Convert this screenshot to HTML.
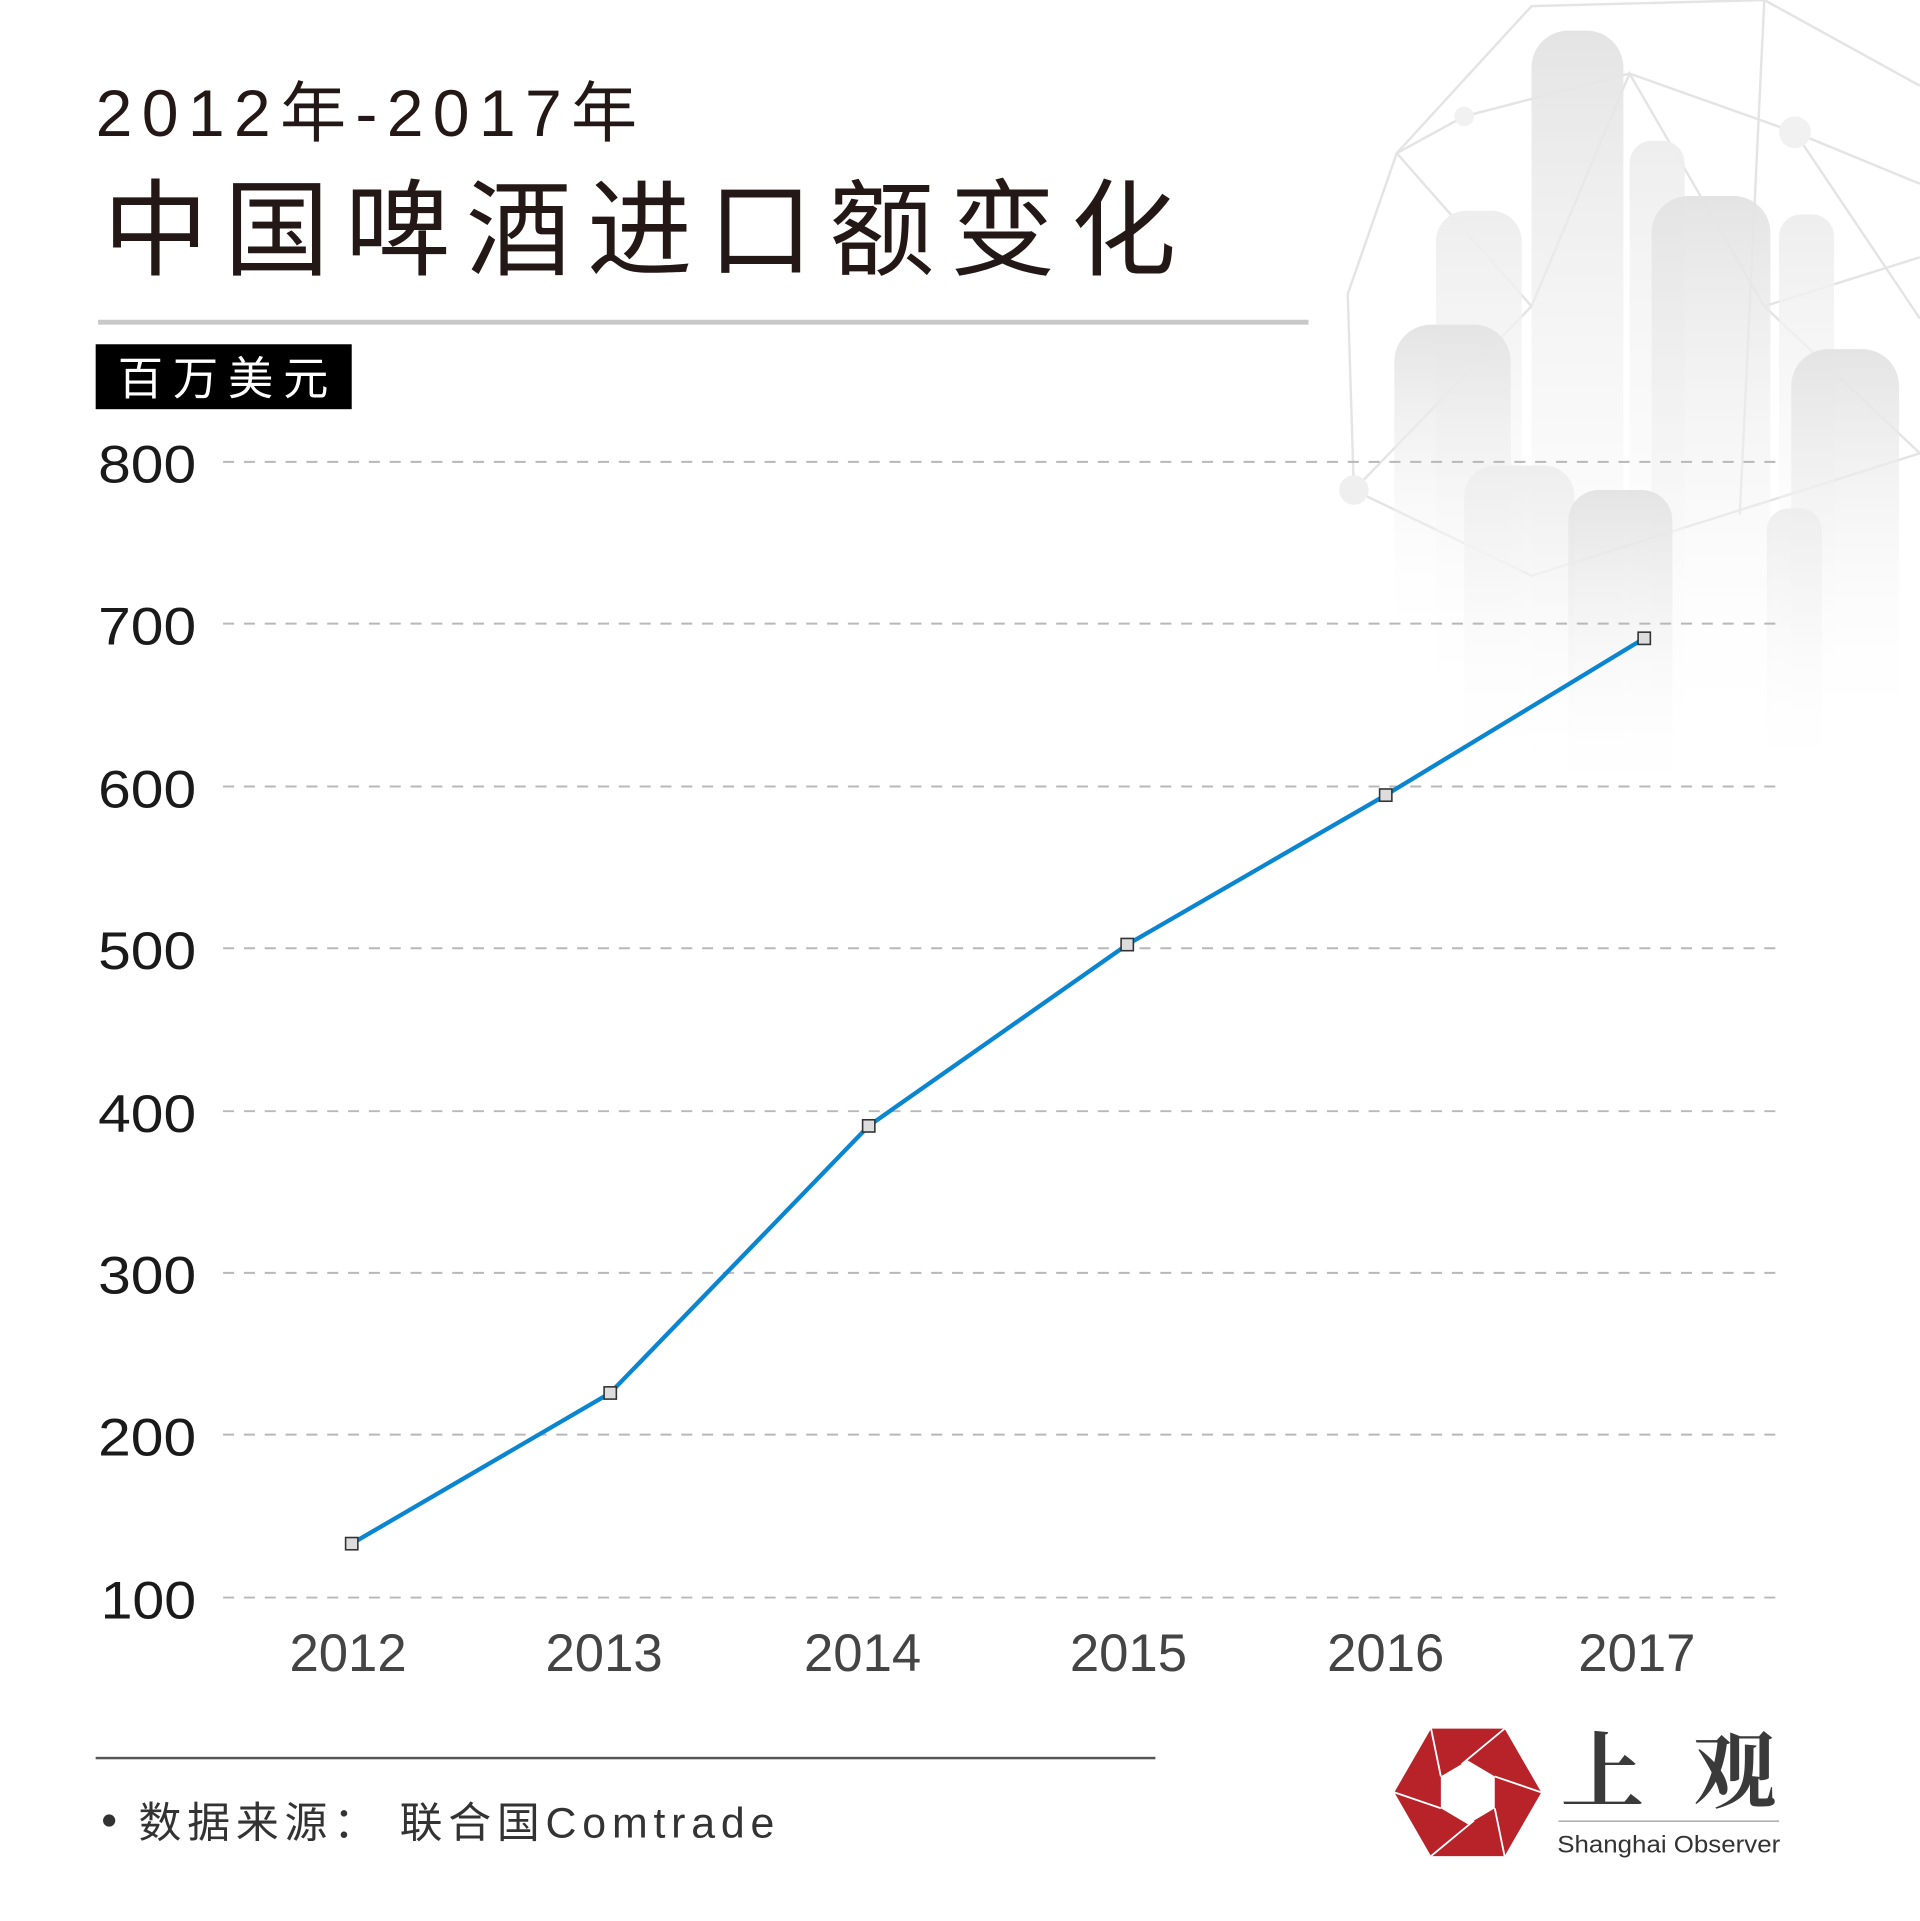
<!DOCTYPE html>
<html><head><meta charset="utf-8"><style>
html,body{margin:0;padding:0;background:#fff;}
svg{display:block;}
</style></head><body>
<svg width="1920" height="1921" viewBox="0 0 1567 1568" xmlns="http://www.w3.org/2000/svg">
<defs>
<linearGradient id="bg" x1="0" y1="0" x2="0" y2="1">
<stop offset="0" stop-color="#e4e4e4"/><stop offset="1" stop-color="#fff" stop-opacity="0"/>
</linearGradient>
<linearGradient id="bg2" x1="0" y1="0" x2="0" y2="1">
<stop offset="0" stop-color="#eeeeee"/><stop offset="1" stop-color="#fff" stop-opacity="0"/>
</linearGradient>
</defs>
<rect width="1567" height="1568" fill="#fff"/>
<g stroke="#e4e4e4" stroke-width="2" fill="none">
<polyline points="1100,240 1140,125 1250,5 1440,0 1567,70"/>
<polyline points="1140,125 1195,95 1330,60 1465,108 1567,150"/>
<polyline points="1100,240 1105,400 1250,470 1567,370"/>
<polyline points="1140,125 1250,250 1330,60 1440,250 1567,210"/>
<polyline points="1250,250 1105,400"/>
<polyline points="1440,250 1567,370"/>
<line x1="1440" y1="0" x2="1420" y2="420"/>
<line x1="1465" y1="108" x2="1567" y2="260"/>
</g>
<circle cx="1105" cy="400" r="12" fill="#efefef"/>
<circle cx="1465" cy="108" r="13" fill="#f1f1f1"/>
<circle cx="1195" cy="95" r="8" fill="#f1f1f1"/>
<rect x="1250" y="25" width="75" height="620" rx="30" fill="url(#bg)"/>
<rect x="1330" y="115" width="45" height="520" rx="18" fill="url(#bg2)"/>
<rect x="1172" y="172" width="70" height="440" rx="25" fill="url(#bg2)"/>
<rect x="1138" y="265" width="95" height="270" rx="30" fill="url(#bg)"/>
<rect x="1348" y="160" width="97" height="460" rx="30" fill="url(#bg)"/>
<rect x="1452" y="175" width="45" height="400" rx="18" fill="url(#bg2)"/>
<rect x="1462" y="285" width="88" height="320" rx="30" fill="url(#bg)"/>
<rect x="1195" y="380" width="90" height="260" rx="25" fill="url(#bg2)"/>
<rect x="1280" y="400" width="85" height="260" rx="25" fill="url(#bg)"/>
<rect x="1442" y="415" width="45" height="230" rx="18" fill="url(#bg2)"/>
<text x="78" y="111" font-family="'Liberation Sans','Noto Sans CJK SC',sans-serif" font-size="54" fill="#231815" textLength="442" lengthAdjust="spacing">2012年-2017年</text>
<text x="84" y="218" font-family="'Liberation Sans','Noto Sans CJK SC',sans-serif" font-size="86" fill="#231815" textLength="876" lengthAdjust="spacing">中国啤酒进口额变化</text>
<rect x="80" y="261" width="988" height="4" fill="#c8c8c8"/>
<rect x="78" y="281" width="209" height="53" fill="#000"/>
<text x="96" y="322" font-family="'Liberation Sans','Noto Sans CJK SC',sans-serif" font-size="37" fill="#fff" textLength="172" lengthAdjust="spacing">百万美元</text>
<g stroke="#b8b8b8" stroke-width="1.6" stroke-dasharray="9,8">
<line x1="182" y1="377" x2="1450" y2="377"/>
<line x1="182" y1="509" x2="1450" y2="509"/>
<line x1="182" y1="642" x2="1450" y2="642"/>
<line x1="182" y1="774" x2="1450" y2="774"/>
<line x1="182" y1="907" x2="1450" y2="907"/>
<line x1="182" y1="1039" x2="1450" y2="1039"/>
<line x1="182" y1="1171" x2="1450" y2="1171"/>
<line x1="182" y1="1304" x2="1450" y2="1304"/>
</g>
<g font-family="'Liberation Sans',sans-serif" font-size="43" fill="#1a1a1a">
<text x="80" y="394" textLength="80" lengthAdjust="spacingAndGlyphs">800</text>
<text x="80" y="526" textLength="80" lengthAdjust="spacingAndGlyphs">700</text>
<text x="80" y="659" textLength="80" lengthAdjust="spacingAndGlyphs">600</text>
<text x="80" y="791" textLength="80" lengthAdjust="spacingAndGlyphs">500</text>
<text x="80" y="924" textLength="80" lengthAdjust="spacingAndGlyphs">400</text>
<text x="80" y="1056" textLength="80" lengthAdjust="spacingAndGlyphs">300</text>
<text x="80" y="1188" textLength="80" lengthAdjust="spacingAndGlyphs">200</text>
<text x="82" y="1321" textLength="78" lengthAdjust="spacingAndGlyphs">100</text>
</g>
<g font-family="'Liberation Sans',sans-serif" font-size="43" fill="#444" text-anchor="middle">
<text x="284" y="1364">2012</text>
<text x="493" y="1364">2013</text>
<text x="704" y="1364">2014</text>
<text x="921" y="1364">2015</text>
<text x="1131" y="1364">2016</text>
<text x="1336" y="1364">2017</text>
</g>
<polyline points="287,1260 498,1137 709,919 920,771 1131,649 1342,521" fill="none" stroke="#0a85d0" stroke-width="3.5"/>
<g fill="#ddd" stroke="#333" stroke-width="1.3">
<rect x="282" y="1255" width="10" height="10"/>
<rect x="493" y="1132" width="10" height="10"/>
<rect x="704" y="914" width="10" height="10"/>
<rect x="915" y="766" width="10" height="10"/>
<rect x="1126" y="644" width="10" height="10"/>
<rect x="1337" y="516" width="10" height="10"/>
</g>
<rect x="78" y="1434" width="865" height="2" fill="#555"/>
<circle cx="89" cy="1486" r="5" fill="#333"/>
<text x="113" y="1500" font-family="'Liberation Sans','Noto Sans CJK SC',sans-serif" font-size="35" fill="#333" textLength="519" lengthAdjust="spacing">数据来源： 联合国Comtrade</text>
<g transform="translate(1198,1463)">
<polygon points="-60,0 -30,-52 30,-52 60,0 30,52 -30,52" fill="#b82229"/>
<polygon points="-22,-13 0,-26 22,-13 22,13 0,26 -22,13" fill="#fff"/>
<g stroke="#fff" stroke-width="1.5">
<line x1="-30" y1="-52" x2="-22" y2="-13"/>
<line x1="30" y1="-52" x2="-5" y2="-23"/>
<line x1="60" y1="0" x2="22" y2="-13"/>
<line x1="30" y1="52" x2="22" y2="13"/>
<line x1="-30" y1="52" x2="5" y2="23"/>
<line x1="-60" y1="0" x2="-22" y2="13"/>
</g>
</g>
<text x="1274" y="1470" font-family="'Noto Serif CJK SC','WenQuanYi Zen Hei',serif" font-size="68" font-weight="bold" fill="#3a3a3a" textLength="176" lengthAdjust="spacing">上观</text>
<rect x="1272" y="1486" width="180" height="1" fill="#999"/>
<text x="1271" y="1512" font-family="'Liberation Sans',sans-serif" font-size="20" fill="#333" textLength="182" lengthAdjust="spacingAndGlyphs">Shanghai Observer</text>
</svg>
</body></html>
